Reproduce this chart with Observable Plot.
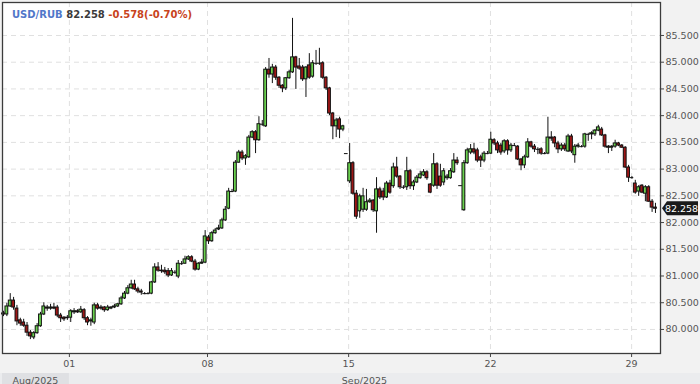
<!DOCTYPE html>
<html><head><meta charset="utf-8">
<script src="https://cdn.jsdelivr.net/npm/d3@7"></script>
<script src="https://cdn.jsdelivr.net/npm/@observablehq/plot@0.6"></script>
<style>
html,body{margin:0;padding:0;background:#f2f2f2;}
#chart{width:700px;height:384px;overflow:hidden;position:relative;}
</style></head><body><div id="chart"></div>
<script>
const open = [80.30,80.28,80.43,80.54,80.39,80.17,80.13,80.07,79.94,79.85,
79.93,80.06,80.28,80.41,80.39,80.41,80.41,80.26,80.22,80.21,
80.22,80.32,80.34,80.32,80.36,80.21,80.15,80.13,80.45,80.41,
80.41,80.36,80.39,80.41,80.43,80.47,80.58,80.67,80.77,80.84,
80.75,80.71,80.67,80.67,80.67,80.88,81.16,81.10,81.10,81.09,
81.01,81.07,80.99,81.23,81.23,81.31,81.35,81.27,81.12,81.23,
81.25,81.72,81.65,81.80,81.87,81.89,82.04,82.26,82.58,82.58,
83.12,83.31,83.20,83.22,83.59,83.69,83.54,83.84,83.80,84.86,
84.77,84.90,84.71,84.56,84.51,84.70,84.81,85.09,84.92,84.90,
84.68,84.94,84.73,84.98,84.98,84.98,84.71,84.51,84.04,83.80,
83.93,83.74,83.29,82.77,83.11,82.54,82.21,82.24,82.24,82.38,
82.41,82.21,82.62,82.58,82.47,82.73,82.68,83.03,82.86,82.66,
82.66,82.96,82.68,82.75,82.83,82.88,82.94,82.71,82.69,83.09,
82.86,82.75,82.83,82.83,82.94,83.16,82.69,82.23,83.11,83.31,
83.37,83.35,83.22,83.16,83.29,83.29,83.54,83.48,83.44,83.33,
83.52,83.35,83.44,83.42,83.18,83.07,83.22,83.50,83.42,83.37,
83.37,83.29,83.29,83.59,83.59,83.48,83.37,83.44,83.33,83.61,
83.26,83.42,83.42,83.42,83.65,83.65,83.65,83.72,83.74,83.63,
83.42,83.40,83.42,83.48,83.44,83.40,83.03,82.84,82.73,82.58,
82.69,82.54,82.66,82.39,82.28];
const high = [80.34,80.49,80.67,80.60,80.45,80.21,80.19,80.13,79.98,79.96,
80.11,80.32,80.50,80.45,80.47,80.49,80.45,80.30,80.24,80.26,
80.37,80.39,80.37,80.43,80.39,80.24,80.21,80.49,80.49,80.45,
80.43,80.45,80.43,80.47,80.49,80.62,80.71,80.82,80.92,80.92,
80.79,80.75,80.69,80.69,80.90,81.23,81.25,81.20,81.16,81.14,
81.14,81.10,81.29,81.27,81.37,81.38,81.38,81.31,81.25,81.31,
81.85,81.76,81.83,81.89,81.95,82.08,82.30,82.64,82.62,83.16,
83.35,83.35,83.27,83.63,83.72,83.72,83.98,83.91,84.90,85.07,
84.96,84.94,84.73,84.58,84.71,84.85,85.82,85.11,85.07,84.94,
84.92,85.16,85.03,85.22,85.26,85.01,84.73,84.53,84.06,83.95,
83.97,83.82,83.29,83.48,83.14,82.60,82.53,82.64,82.62,82.45,
82.43,82.84,82.66,82.64,82.77,82.79,83.11,83.22,82.88,82.69,
83.22,82.99,82.79,82.88,82.96,82.99,82.97,82.73,83.29,83.12,
83.09,83.01,82.90,83.01,83.29,83.22,82.69,83.16,83.39,83.46,
83.48,83.39,83.26,83.33,83.33,83.69,83.57,83.52,83.48,83.55,
83.55,83.48,83.48,83.44,83.20,83.26,83.57,83.52,83.46,83.40,
83.40,83.31,83.97,83.70,83.61,83.52,83.48,83.48,83.65,83.65,
83.46,83.48,83.44,83.67,83.67,83.70,83.74,83.82,83.78,83.65,
83.44,83.44,83.54,83.50,83.46,83.42,83.07,82.86,82.79,82.69,
82.71,82.69,82.69,82.43,82.36];
const low = [80.24,80.24,80.41,80.36,80.07,80.06,80.04,79.87,79.81,79.81,
79.91,80.04,80.26,80.34,80.36,80.37,80.22,80.13,80.15,80.17,
80.13,80.28,80.30,80.30,80.17,80.07,80.06,80.09,80.36,80.36,
80.32,80.34,80.37,80.39,80.41,80.45,80.56,80.65,80.75,80.73,
80.67,80.64,80.65,80.65,80.65,80.86,81.07,81.05,81.03,80.97,
80.99,81.03,80.95,81.20,81.22,81.29,81.25,81.09,81.10,81.22,
81.23,81.59,81.63,81.78,81.85,81.87,82.02,82.24,82.56,82.56,
83.11,83.16,83.07,83.20,83.57,83.29,83.52,83.80,83.78,84.70,
84.60,84.66,84.51,84.43,84.47,84.68,84.79,84.49,84.85,84.64,
84.34,84.68,84.70,84.94,84.94,84.68,84.47,84.00,83.55,83.59,
83.57,83.70,83.29,82.73,82.51,82.06,82.08,82.19,82.21,82.36,
82.19,81.80,82.43,82.41,82.45,82.53,82.64,82.83,82.62,82.62,
82.60,82.62,82.60,82.73,82.81,82.86,82.79,82.54,82.66,82.62,
82.66,82.69,82.79,82.81,82.92,83.07,82.69,82.21,83.09,83.27,
83.27,83.12,83.03,83.12,83.27,83.27,83.44,83.29,83.26,83.29,
83.26,83.31,83.42,83.16,82.97,83.01,83.20,83.39,83.31,83.27,
83.26,83.27,83.27,83.52,83.40,83.29,83.33,83.33,83.31,83.29,
83.11,83.39,83.40,83.39,83.52,83.55,83.61,83.70,83.61,83.39,
83.29,83.33,83.39,83.42,83.39,83.01,82.75,82.81,82.53,82.49,
82.54,82.39,82.38,82.19,82.17];
const close = [80.28,80.43,80.54,80.41,80.15,80.11,80.07,79.94,79.87,79.93,
80.06,80.28,80.43,80.39,80.41,80.39,80.26,80.21,80.19,80.22,
80.34,80.34,80.32,80.37,80.21,80.13,80.17,80.45,80.39,80.39,
80.36,80.41,80.41,80.43,80.47,80.58,80.67,80.77,80.84,80.75,
80.71,80.69,80.67,80.67,80.88,81.16,81.10,81.09,81.07,81.01,
81.09,81.07,81.23,81.23,81.31,81.35,81.27,81.12,81.23,81.25,
81.74,81.65,81.80,81.85,81.89,82.04,82.24,82.58,82.58,83.12,
83.31,83.20,83.24,83.59,83.69,83.54,83.84,83.84,84.86,84.77,
84.90,84.71,84.56,84.51,84.70,84.81,85.09,84.90,84.88,84.68,
84.90,84.71,84.98,84.98,84.98,84.71,84.51,84.04,83.80,83.91,
83.74,83.80,83.29,83.11,82.54,82.11,82.49,82.49,82.38,82.41,
82.23,82.62,82.47,82.47,82.73,82.56,83.03,82.86,82.66,82.66,
82.96,82.68,82.75,82.84,82.90,82.94,82.83,82.56,83.09,82.69,
82.69,82.96,82.86,82.96,83.16,83.11,82.69,83.11,83.35,83.37,
83.31,83.16,83.16,83.29,83.29,83.55,83.48,83.35,83.31,83.52,
83.35,83.44,83.44,83.18,83.07,83.22,83.50,83.42,83.37,83.37,
83.29,83.29,83.59,83.57,83.48,83.37,83.44,83.37,83.61,83.33,
83.42,83.44,83.42,83.65,83.65,83.67,83.72,83.78,83.63,83.42,
83.40,83.42,83.48,83.44,83.40,83.03,82.84,82.84,82.56,82.66,
82.56,82.66,82.39,82.28,82.258];

const xTickPos = [19.6, 60.7, 102.7, 144.9, 186.9];
const xTickLabels = ["01", "08", "15", "22", "29"];
const monthLabels = ["Aug/2025", "Sep/2025"];
const yTicks = [80, 80.5, 81, 81.5, 82, 82.5, 83, 83.5, 84, 84.5, 85, 85.5];
const symbol = "USD/RUB";
const lastPrice = 82.258;
const changeText = "-0.578(-0.70%)";

const candles = open.map((o, i) => ({i, o, h: high[i], l: low[i], c: close[i]}));
const bodies = candles.filter(d => d.o !== d.c);
const dojis = candles.filter(d => d.o === d.c);
const tickLabel = new Map(xTickPos.map((p, k) => [p, xTickLabels[k]]));

const chart = Plot.plot({
  width: 700, height: 384,
  marginLeft: 2, marginRight: 40, marginTop: 2, marginBottom: 31,
  style: {background: "#f2f2f2", fontFamily: "DejaVu Sans", fontSize: "9.5px", color: "#555"},
  x: {domain: [-0.3, 195.5]},
  y: {domain: [79.55, 86.117]},
  color: {type: "identity"},
  marks: [
    Plot.frame({fill: "white", stroke: null}),
    Plot.gridY(yTicks, {stroke: "#e0e0e0", strokeOpacity: 1, strokeDasharray: "5,4"}),
    Plot.gridX(xTickPos, {stroke: "#e0e0e0", strokeOpacity: 1, strokeDasharray: "5,4"}),
    Plot.ruleX(candles, {x: "i", y1: "l", y2: "h", stroke: "#111", strokeWidth: 1}),
    Plot.rect(bodies, {x1: d => d.i - 0.42, x2: d => d.i + 0.42, y1: "o", y2: "c",
      fill: d => d.c > d.o ? "#6ad14e" : "#9e1616", stroke: "#111", strokeWidth: 1}),
    Plot.ruleY(dojis, {x1: d => d.i - 0.55, x2: d => d.i + 0.55, y: "c", stroke: "#111", strokeWidth: 1}),
    Plot.frame({stroke: "#3c3c3c", strokeWidth: 1.3}),
    Plot.axisY(yTicks, {anchor: "right", tickSize: 3, tickPadding: 2, tickFormat: d => d.toFixed(3), stroke: "#444", fill: "#555"}),
    Plot.axisX(xTickPos, {anchor: "bottom", tickSize: 4, tickPadding: 3, tickFormat: d => tickLabel.get(d), stroke: "#444", fill: "#555"})
  ]
});
document.getElementById("chart").appendChild(chart);

const sx = chart.scale("x"), sy = chart.scale("y");
const svg = d3.select(chart);
// month strip
const stripY = 373;
const x0 = sx.apply(-0.3), xSep = sx.apply(xTickPos[0]);
svg.append("rect").attr("x", 0).attr("y", stripY).attr("width", 700).attr("height", 384 - stripY).attr("fill", "#ebecee");
svg.append("rect").attr("x", x0).attr("y", stripY).attr("width", xSep - x0).attr("height", 384 - stripY).attr("fill", "#dfe0e3");
const mEnd = sx.apply(195.5);
[[x0, xSep], [xSep, mEnd]].forEach(([a, b], k) => {
  svg.append("text").attr("x", (a + b) / 2).attr("y", 383.5).attr("text-anchor", "middle")
    .attr("font-family", "DejaVu Sans").attr("font-size", "9.5px").attr("fill", "#555").text(monthLabels[k]);
});
// last price marker
const ly = sy.apply(lastPrice);
const lx = sx.apply(195.5);
svg.append("path").attr("d", `M${lx + 2},${ly} L${lx + 7},${ly - 7} L${lx + 38},${ly - 7} L${lx + 38},${ly + 7} L${lx + 7},${ly + 7} Z`).attr("fill", "#1a1a1a");
svg.append("text").attr("x", lx + 21.5).attr("y", ly + 3.5).attr("text-anchor", "middle")
  .attr("font-family", "DejaVu Sans").attr("font-size", "9.5px").attr("fill", "#fff").text(lastPrice.toFixed(3));
// title
const t = svg.append("text").attr("x", 12).attr("y", 18).attr("text-anchor", "start")
  .attr("font-family", "DejaVu Sans").attr("font-size", "10px").attr("font-weight", "bold");
t.append("tspan").attr("fill", "#5177c9").text(symbol + " ");
t.append("tspan").attr("fill", "#3a3a3a").text(lastPrice.toFixed(3) + " ");
t.append("tspan").attr("fill", "#c8431c").text(changeText);
</script></body></html>
